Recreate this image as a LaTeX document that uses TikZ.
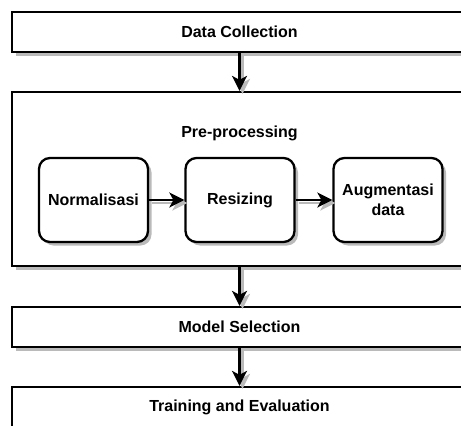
\documentclass[tikz,border=0pt]{standalone}
\usepackage{fontspec}
\setmainfont{Liberation Sans}
\usetikzlibrary{arrows.meta,shadows}

\tikzset{
  x=1pt, y=-1pt,
  label font/.style={font=\bfseries\fontsize{16}{20}\selectfont},
  stage/.style={draw, line width=2.3pt, fill=white, inner sep=0pt,
    label font, align=center,
    drop shadow={shadow xshift=3.5pt, shadow yshift=-3.5pt, fill=black!27, opacity=1}},
  widebox/.style={stage, minimum width=455pt, minimum height=40pt},
  stepbox/.style={stage, rounded corners=11pt, minimum width=109pt, minimum height=84pt},
  flow/.style={line width=2.3pt, -{Stealth[length=15pt,width=15pt,inset=4pt]}},
  flowshade/.style={flow, draw=black!27, fill=black!27, transform canvas={xshift=3pt,yshift=-3pt}},
}

\begin{document}
\begin{tikzpicture}
  \useasboundingbox (0,0) rectangle (461,426);
  \clip (0,0) rectangle (461,426);

  % pipeline stages
  \node[widebox] (dc) at (239.5,32) {Data Collection};
  \node[stage, minimum width=455pt, minimum height=174pt] (pp) at (239.5,179) {};
  \node[label font] (pptitle) at (239.5,133) {Pre-processing};
  \node[widebox] (ms) at (239.5,327) {Model Selection};
  \node[widebox] (te) at (239.5,407) {Training and Evaluation};

  % pre-processing steps
  \node[stepbox] (norm) at (93.5,200) {Normalisasi};
  \node[stepbox] (res) at (240,200) {Resizing};
  \node[stepbox] (aug) at (388,200) {Augmentasi\\data};

  % connector shadows
  \draw[flowshade] (dc.south) -- (pp.north);
  \draw[flowshade] (pp.south) -- (ms.north);
  \draw[flowshade] (ms.south) -- (te.north);
  \draw[flowshade] (norm.east) -- (res.west);
  \draw[flowshade] (res.east) -- (aug.west);

  % connectors
  \draw[flow] (dc.south) -- (pp.north);
  \draw[flow] (pp.south) -- (ms.north);
  \draw[flow] (ms.south) -- (te.north);
  \draw[flow] (norm.east) -- (res.west);
  \draw[flow] (res.east) -- (aug.west);
\end{tikzpicture}
\end{document}
